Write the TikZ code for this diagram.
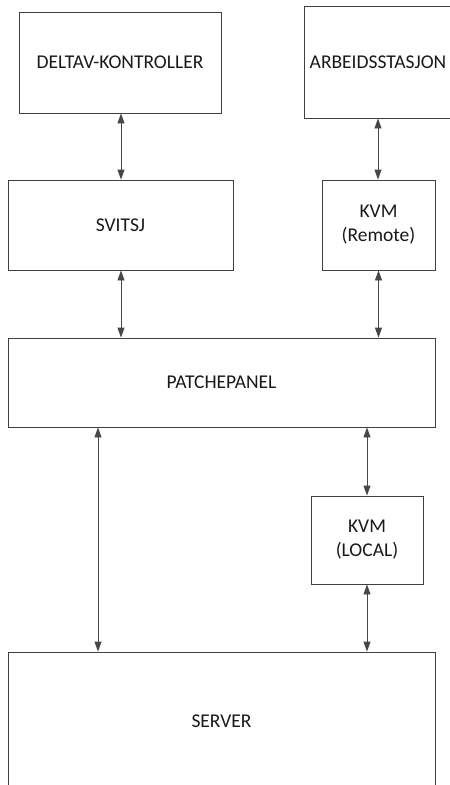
\documentclass[tikz,border=0pt]{standalone}
\usepackage{fontspec}
\setmainfont{Carlito}
\usetikzlibrary{arrows.meta,shadows}
\begin{document}
\begin{tikzpicture}[x=1pt,y=-1pt,
  box/.style={draw=black!75, line width=0.9pt, fill=white, align=center,
    font=\fontsize{19.5}{24}\selectfont, inner sep=0pt, text=black!90,
    drop shadow={shadow xshift=1.3pt, shadow yshift=-1.3pt, opacity=0.22, fill=black}},
  link/.style={draw=black!72, line width=0.9pt,
    {Triangle[length=10pt,width=7pt]}-{Triangle[length=10pt,width=7pt]}}]
\useasboundingbox (0,0) rectangle (450,785);

\node[box, minimum width=202pt, minimum height=101pt] (dv) at (120,62.5) {DELTAV-KONTROLLER};
\node[box, minimum width=148pt, minimum height=112pt] (ws) at (378,62) {ARBEIDSSTASJON};
\node[box, minimum width=225pt, minimum height=90pt] (sw) at (120.5,225) {SVITSJ};
\node[box, minimum width=113pt, minimum height=90pt] (kr) at (378.5,225) {KVM\\(Remote)};
\node[box, minimum width=427pt, minimum height=89pt] (pp) at (221.5,382.5) {PATCHEPANEL};
\node[box, minimum width=112pt, minimum height=88pt] (kl) at (367,540) {KVM\\(LOCAL)};
\node[box, minimum width=427pt, minimum height=138pt] (sv) at (221.5,721) {SERVER};

\draw[link] (dv.south -| 121,0) -- (sw.north -| 121,0);
\draw[link] (ws.south) -- (kr.north -| ws.south);
\draw[link] (sw.south -| 121,0) -- (pp.north -| 121,0);
\draw[link] (kr.south) -- (pp.north -| kr.south);
\draw[link] (pp.south -| 98,0) -- (sv.north -| 98,0);
\draw[link] (pp.south -| kl.north) -- (kl.north);
\draw[link] (kl.south) -- (sv.north -| kl.south);
\end{tikzpicture}
\end{document}
